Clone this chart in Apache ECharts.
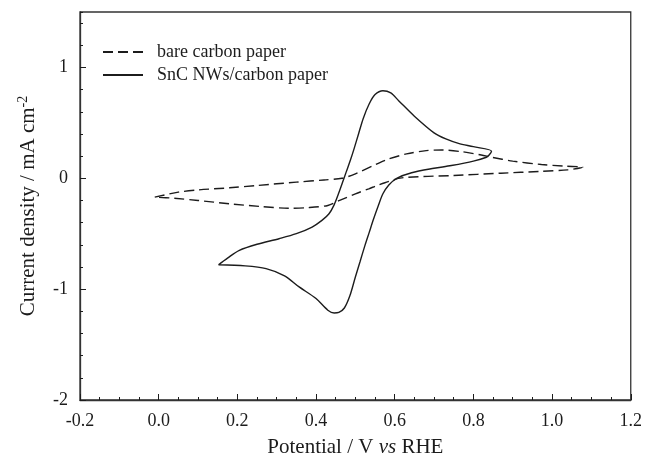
<!DOCTYPE html>
<html>
<head>
<meta charset="utf-8">
<script src="https://cdn.jsdelivr.net/npm/echarts@6/dist/echarts.min.js"></script>
<style>
  html, body { margin: 0; padding: 0; background: #fff; }
  #chart { width: 645px; height: 468px; }
</style>
</head>
<body>
<div id="chart"></div>
<script>
// bare carbon paper CV loop [E (V vs RHE), j (mA cm-2)]
const bareCurve = [
  [-0.01, -0.17], [0.05, -0.125], [0.10, -0.105], [0.18, -0.086], [0.25, -0.065],
  [0.35, -0.035], [0.42, -0.015], [0.466, 0.0], [0.50, 0.04], [0.555, 0.13],
  [0.585, 0.175], [0.63, 0.22], [0.68, 0.25], [0.72, 0.255], [0.77, 0.24],
  [0.82, 0.21], [0.846, 0.19], [0.90, 0.155], [0.973, 0.124], [1.03, 0.11],
  [1.078, 0.10], [1.04, 0.076], [0.97, 0.062], [0.87, 0.046], [0.75, 0.025],
  [0.618, 0.004], [0.575, -0.04], [0.555, -0.065], [0.534, -0.095], [0.50, -0.14],
  [0.46, -0.2], [0.43, -0.245], [0.38, -0.265], [0.33, -0.27], [0.26, -0.255],
  [0.18, -0.23], [0.10, -0.20], [0.04, -0.18], [-0.01, -0.17]
];

// SnC NWs/carbon paper CV loop
const sncCurve = [
  [0.152, -0.78], [0.175, -0.72], [0.205, -0.65], [0.25, -0.595], [0.306, -0.545],
  [0.35, -0.50], [0.39, -0.44], [0.415, -0.38], [0.433, -0.32], [0.446, -0.24],
  [0.457, -0.14], [0.467, -0.04], [0.477, 0.06], [0.487, 0.16], [0.497, 0.27],
  [0.508, 0.40], [0.52, 0.54], [0.535, 0.67], [0.55, 0.755], [0.57, 0.79],
  [0.59, 0.77], [0.61, 0.70], [0.65, 0.56], [0.70, 0.41], [0.73, 0.355],
  [0.762, 0.315], [0.80, 0.285], [0.846, 0.245], [0.84, 0.21], [0.833, 0.19],
  [0.80, 0.155], [0.744, 0.115], [0.70, 0.09], [0.643, 0.05], [0.605, 0.0],
  [0.585, -0.06], [0.57, -0.14], [0.558, -0.25], [0.546, -0.37], [0.535, -0.49],
  [0.524, -0.61], [0.512, -0.75], [0.50, -0.89], [0.486, -1.06], [0.472, -1.17],
  [0.458, -1.21], [0.446, -1.215], [0.43, -1.19], [0.40, -1.085], [0.357, -0.98],
  [0.32, -0.88], [0.273, -0.815], [0.22, -0.79], [0.152, -0.78]
];

const seriesNames = ['bare carbon paper', 'SnC NWs/carbon paper'];
const xRange = [-0.2, 1.2];
const yRange = [-2, 1.5];

const serif = 'Liberation Serif, Times New Roman, serif';
const ink = '#1c1c1c';

let chart = echarts.init(document.getElementById('chart'), null, { renderer: 'canvas' });

// extra axes (no line, no labels) only carry the minor ticks
const minorX = {
  type: 'value', position: 'bottom', min: xRange[0], max: xRange[1], interval: 0.05,
  axisLine: { show: false, onZero: false }, splitLine: { show: false }, axisLabel: { show: false },
  axisTick: { inside: true, length: 3, lineStyle: { color: ink, width: 1 } }
};
const minorY = {
  type: 'value', position: 'left', min: yRange[0], max: yRange[1], interval: 0.2,
  axisLine: { show: false, onZero: false }, splitLine: { show: false }, axisLabel: { show: false },
  axisTick: { inside: true, length: 3, lineStyle: { color: ink, width: 1 } }
};

const option = {
  animation: false,
  backgroundColor: '#fff',
  grid: {
    left: 80, right: 12, top: 12, bottom: 68,
    show: true, borderColor: '#333', borderWidth: 1.3
  },
  legend: {
    data: seriesNames,
    orient: 'vertical',
    left: 97, top: 38,
    itemWidth: 40, itemHeight: 14, itemGap: 5,
    itemStyle: { opacity: 0 },
    textStyle: { fontFamily: serif, fontSize: 18, color: ink, padding: [0, 0, 0, 9] }
  },
  xAxis: [
    {
      type: 'value', position: 'bottom', min: xRange[0], max: xRange[1], interval: 0.2,
      name: 'Potential / V {it|vs} RHE',
      nameLocation: 'middle', nameGap: 37,
      nameTextStyle: {
        fontFamily: serif, fontSize: 21, color: ink,
        rich: { it: { fontFamily: serif, fontSize: 21, fontStyle: 'italic', color: ink } }
      },
      axisLine: { onZero: false, lineStyle: { color: '#333', width: 1.3 } },
      axisTick: { inside: true, length: 6, lineStyle: { color: ink, width: 1 } },
      splitLine: { show: false },
      axisLabel: {
        margin: 12, fontFamily: serif, fontSize: 18, color: ink,
        formatter: v => v.toFixed(1)
      }
    },
    minorX
  ],
  yAxis: [
    {
      type: 'value', position: 'left', min: yRange[0], max: yRange[1], interval: 1,
      name: 'Current density / mA cm{sup|-2}',
      nameLocation: 'middle', nameGap: 40,
      nameTextStyle: {
        fontFamily: serif, fontSize: 21, color: ink,
        rich: { sup: { fontFamily: serif, fontSize: 14, color: ink, verticalAlign: 'top', padding: [0, 0, 10, 0] } }
      },
      axisLine: { onZero: false, lineStyle: { color: '#333', width: 1.3 } },
      axisTick: { inside: true, length: 6, lineStyle: { color: ink, width: 1 } },
      splitLine: { show: false },
      axisLabel: {
        margin: 12, fontFamily: serif, fontSize: 18, color: ink,
        showMaxLabel: false
      }
    },
    minorY
  ],
  series: [
    {
      name: seriesNames[0], type: 'line', data: bareCurve,
      xAxisIndex: 0, yAxisIndex: 0,
      symbol: 'none', smooth: 0.3,
      lineStyle: { color: ink, width: 1.4, type: [10, 5] },
      itemStyle: { color: ink }
    },
    {
      name: seriesNames[1], type: 'line', data: sncCurve,
      xAxisIndex: 0, yAxisIndex: 0,
      symbol: 'none', smooth: 0.3,
      lineStyle: { color: ink, width: 1.4 },
      itemStyle: { color: ink }
    }
  ]
};

chart.setOption(option);
</script>
</body>
</html>
